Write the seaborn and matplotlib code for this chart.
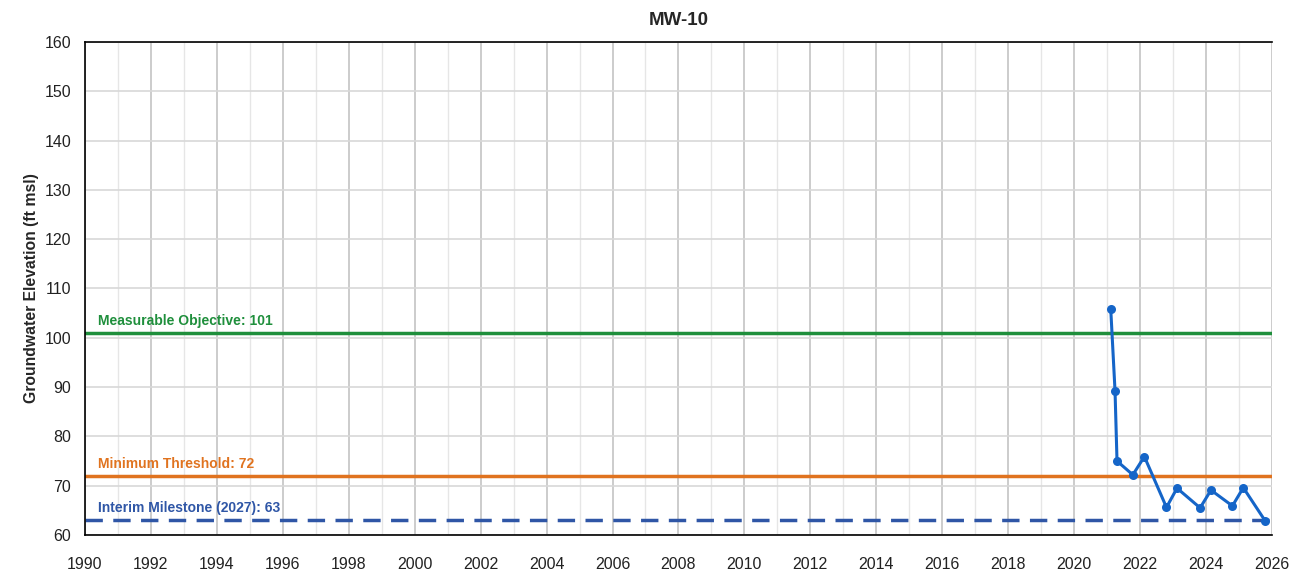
import numpy as np
import pandas as pd
import matplotlib
matplotlib.use("Agg")
import matplotlib.pyplot as plt
from matplotlib.ticker import MultipleLocator
import seaborn as sns

# Measured groundwater elevations (decimal year, ft msl)
years = [2021.11, 2021.24, 2021.30, 2021.78, 2022.13, 2022.80,
         2023.12, 2023.82, 2024.15, 2024.80, 2025.13, 2025.80]
elevations = [105.8, 89.2, 75.0, 72.2, 75.9, 65.6,
              69.5, 65.5, 69.1, 65.9, 69.6, 62.8]

# Sustainability criteria
measurable_objective = 101
minimum_threshold = 72
interim_milestone = 63

well_name = "MW-10"

sns.set_theme(style="white")
plt.rcParams["font.family"] = ["Liberation Sans", "DejaVu Sans"]

df = pd.DataFrame({"year": years, "elevation": elevations})

fig, ax = plt.subplots(figsize=(13.01, 5.72), dpi=100)
fig.subplots_adjust(left=0.0653, right=0.9777, top=0.9266, bottom=0.0647)

# Grid: every year light, every 2 years darker
ax.set_xlim(1990, 2026)
ax.set_ylim(60, 160)
ax.xaxis.set_major_locator(MultipleLocator(2))
ax.xaxis.set_minor_locator(MultipleLocator(1))
ax.yaxis.set_major_locator(MultipleLocator(10))
ax.grid(which="major", axis="x", color="#c4c4c4", linewidth=1.2)
ax.grid(which="minor", axis="x", color="#e6e6e6", linewidth=1.0)
ax.grid(which="major", axis="y", color="#d8d8d8", linewidth=1.2)
ax.set_axisbelow(True)

# Threshold lines
ax.axhline(measurable_objective, color="#1f8f3c", linewidth=2.5, zorder=2)
ax.axhline(minimum_threshold, color="#e0731f", linewidth=2.5, zorder=2)
ax.axhline(interim_milestone, color="#2f56a6", linewidth=2.5,
           linestyle=(0, (5, 3)), zorder=2)

ax.text(1990.4, measurable_objective + 1.0, f"Measurable Objective: {measurable_objective}",
        color="#1f8f3c", fontsize=10, fontweight="bold", va="bottom")
ax.text(1990.4, minimum_threshold + 1.0, f"Minimum Threshold: {minimum_threshold}",
        color="#e0731f", fontsize=10, fontweight="bold", va="bottom")
ax.text(1990.4, interim_milestone + 1.0, f"Interim Milestone (2027): {interim_milestone}",
        color="#2f56a6", fontsize=10, fontweight="bold", va="bottom")

# Measured data
sns.lineplot(data=df, x="year", y="elevation", ax=ax, color="#1565c8",
             linewidth=2.2, marker="o", markersize=6.5, markeredgewidth=0,
             zorder=4, clip_on=False)

ax.set_title(well_name, fontsize=13.5, fontweight="bold", pad=12)
ax.set_xlabel("")
ax.set_ylabel("Groundwater Elevation (ft msl)", fontsize=11.3, fontweight="bold")

for side in ["left", "bottom", "top"]:
    ax.spines[side].set_color("black")
    ax.spines[side].set_linewidth(1.2)
ax.spines["right"].set_visible(False)

ax.tick_params(axis="both", which="major", direction="out", length=5, width=1,
               color="#333333", labelsize=11.5, labelcolor="#222222", pad=5)
ax.tick_params(axis="x", which="major", pad=11)
ax.tick_params(axis="both", which="minor", length=0)

fig.savefig("out.png", dpi=100)
